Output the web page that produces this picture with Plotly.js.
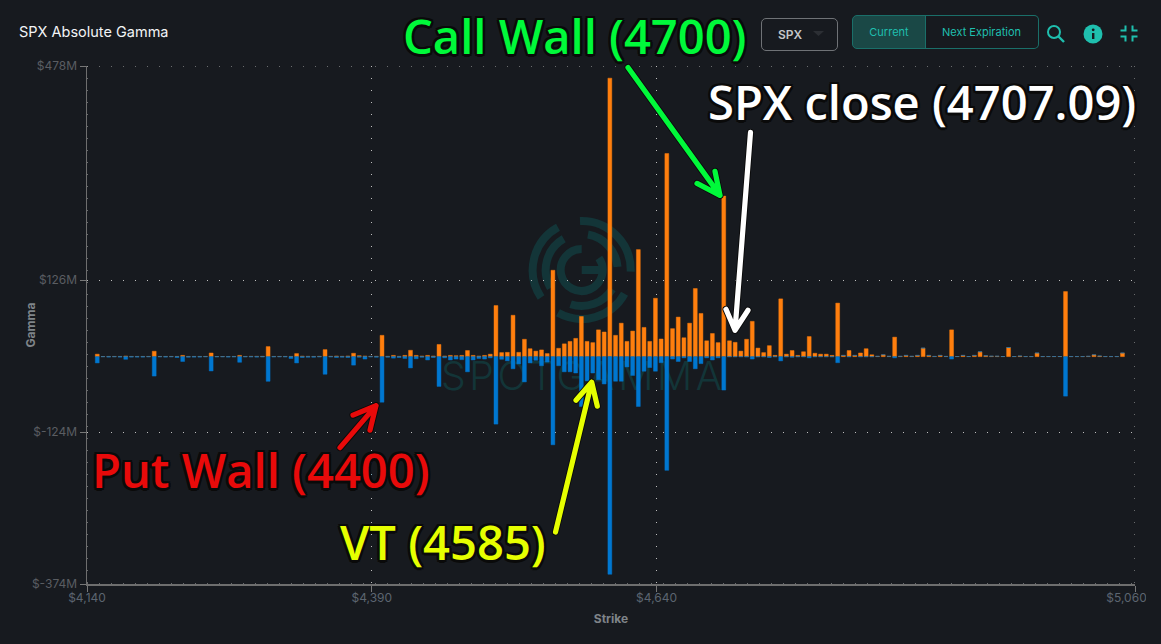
<!DOCTYPE html>
<html>
<head>
<meta charset="utf-8">
<script src="https://cdn.plot.ly/plotly-3.0.1.min.js"></script>
<style>
html,body{margin:0;padding:0;background:#171a1f;width:1161px;height:644px;overflow:hidden;font-family:Inter,sans-serif}
#wm{position:absolute;left:0;top:0}
#chart{position:absolute;left:0;top:0;width:1146px;height:644px;overflow:hidden}
.ui{position:absolute;box-sizing:border-box;display:flex;align-items:center;justify-content:center;font-size:11px;white-space:nowrap}
#icons{position:absolute;left:0;top:0}
.shapelayer path{stroke-linejoin:round}
</style>
</head>
<body>
<svg id="wm" width="1161" height="644"></svg>
<div id="chart"></div>
<div class="ui" style="left:761px;top:18px;width:77px;height:33px;border:1px solid #6f7276;border-radius:5px;color:#c4c6c9;font-weight:600;font-size:12px;padding-right:19px">SPX</div>
<div class="ui" style="left:852px;top:15px;width:74px;height:34px;border:1px solid #1a6f69;border-radius:5px 0 0 5px;background:#1a4846;color:#1fbfae">Current</div>
<div class="ui" style="left:925px;top:15px;width:114px;height:34px;border:1px solid #1a6f69;border-left:none;border-radius:0 5px 5px 0;color:#1fbfae">Next Expiration</div>
<svg id="icons" width="1161" height="70">
  <path d="M813 31 L824 31 L818.5 36 Z" fill="#2c2f34"/>
  <circle cx="1054" cy="32" r="6" fill="none" stroke="#1fbfae" stroke-width="2"/>
  <path d="M1058.5 36.5 L1064 42" stroke="#1fbfae" stroke-width="2.4" fill="none"/>
  <circle cx="1093" cy="34" r="9.5" fill="#1fbfae"/>
  <rect x="1092" y="33" width="2.4" height="6" fill="#171a1f"/><circle cx="1093.2" cy="29.8" r="1.4" fill="#171a1f"/>
  <path d="M1123 30.5 H1128 V25.5 M1135 25.5 V30.5 H1140 M1123 36.5 H1128 V41.5 M1135 41.5 V36.5 H1140" transform="translate(-2.5,0)" fill="none" stroke="#1fbfae" stroke-width="2"/>
</svg>
<script>
// Strike every 5 points from 4150 to 5050
const strikes = [
4150,4155,4160,4165,4170,4175,4180,4185,4190,4195,
4200,4205,4210,4215,4220,4225,4230,4235,4240,4245,
4250,4255,4260,4265,4270,4275,4280,4285,4290,4295,
4300,4305,4310,4315,4320,4325,4330,4335,4340,4345,
4350,4355,4360,4365,4370,4375,4380,4385,4390,4395,
4400,4405,4410,4415,4420,4425,4430,4435,4440,4445,
4450,4455,4460,4465,4470,4475,4480,4485,4490,4495,
4500,4505,4510,4515,4520,4525,4530,4535,4540,4545,
4550,4555,4560,4565,4570,4575,4580,4585,4590,4595,
4600,4605,4610,4615,4620,4625,4630,4635,4640,4645,
4650,4655,4660,4665,4670,4675,4680,4685,4690,4695,
4700,4705,4710,4715,4720,4725,4730,4735,4740,4745,
4750,4755,4760,4765,4770,4775,4780,4785,4790,4795,
4800,4805,4810,4815,4820,4825,4830,4835,4840,4845,
4850,4855,4860,4865,4870,4875,4880,4885,4890,4895,
4900,4905,4910,4915,4920,4925,4930,4935,4940,4945,
4950,4955,4960,4965,4970,4975,4980,4985,4990,4995,
5000,5005,5010,5015,5020,5025,5030,5035,5040,5045,
5050];
// Call gamma, $M
const callGamma = [
4,.2,.3,.3,.3,1,.3,.3,.3,.3,
8.8,.3,.3,.3,.3,2,.3,.3,.3,.3,
6,.2,.2,.2,.3,2,.3,.5,.5,.5,
16.5,.3,.3,.3,.3,5,.8,.5,.3,.5,
11.5,.5,1,.5,1,5.5,1.5,1,.5,.5,
35,.5,2,.5,2,10.4,2,1,2,1,
20,1,2,1.5,2,10,2,1,2,4,
84,6.6,7,68,7,28.5,13,9,11,5,
142,13.7,21,25,30,66,25,23,44,40.5,
458,35,55,25,42,176,48,25,96,29,
334,46,65,31,55,112,71,26,38,23,
264,26,23.5,9,28.5,58,14,6.6,18,2,
95,4,10,2,8,33,5.5,4,4,2,
88,2,10,2,6,13,3,.5,3,.5,
32,.5,2,.5,2,14,2,.3,2,.3,
44,.2,2,.2,2,8,1.5,.7,.7,.2,
15,.2,1,.1,.1,6,.1,.1,.2,.2,
107,.1,.1,.1,.5,3,1,.1,.1,.1,
6];
// Put gamma, $M (magnitude, drawn below zero)
const putGamma = [
10.4,.2,.8,.3,.8,4.4,.8,.8,.8,.3,
32,.3,.8,.3,1.5,8,1,.8,.8,.3,
23.6,.5,.3,.8,.5,9.3,.5,.5,.8,.5,
40.6,.5,.3,.5,3,10.4,1.5,1,1,.5,
29,.5,1.5,1,1.5,14,1,4,.5,1,
75,1,2.5,1.5,3,18.6,3.5,1,5.5,1.5,
49,2,5.5,4,5,25,5.5,3,4,2,
111,4.4,7,20,12,41.6,10.4,6,15,9,
145,15,25,25,27,82,40,27,38,45,
358,40.5,40.5,17,31,82,24,18,24,10,
187,4,8,2,8,20,11.5,2,5.5,2,
55,.2,.2,.2,.5,4,.3,.3,1.5,.2,
7,.3,1,.2,.2,2,.2,.2,.2,.3,
10,0,.2,0,.2,.2,.2,0,0,0,
2,0,0,0,0,0,0,0,0,0,
4,0,0,0,0,0,0,0,0,0,
0,0,0,0,0,0,0,0,0,0,
65,0,0,0,0,0,0,0,0,0,
0];
const xTickVals = [4140,4390,4640,5060];
const xTickText = ['$4,140','$4,390','$4,640','$5,060'];
const yTickVals = [478,126,-124,-374];
const yTickText = ['$478M','$126M','$-124M','$-374M'];

const W=1146,H=644,L=87,R=11,T=65.5,B=60;
const px=x=>(x-L)/(W-L-R), py=y=>1-(y-T)/(H-T-B);
function arrowPath(from,tip,h1,h2){
  const pt=(c,a)=>c+' '+px(a[0])+' '+py(a[1]);
  return pt('M',from)+' '+pt('L',tip)+' '+pt('M',h1)+' '+pt('L',tip)+' '+pt('L',h2);
}
const arrows=[
 {c:'#00f93a',d:[[628,67],[720,195],[715,171],[697,183]]},
 {c:'#ffffff',d:[[750.5,132],[735,330],[726,309],[748,310]]},
 {c:'#e6ff00',d:[[555.5,532],[591.7,382],[576,400],[597.3,406]]},
 {c:'#e80a0a',d:[[340,447.5],[376,405.5],[353,415],[370,430]]}
];
const gridDots={color:'#bdbdbd',width:1,dash:'1px,11px'};
const shapes=[
 {type:'line',xref:'x',yref:'y',x0:4140,x1:5060,y0:478,y1:478,line:gridDots,layer:'below'},
 {type:'line',xref:'x',yref:'y',x0:5060,x1:5060,y0:478,y1:-374,line:gridDots,layer:'below'},
 {type:'line',xref:'x',yref:'y',x0:4140,x1:5060,y0:-374,y1:-374,line:gridDots,layer:'above'},
 {type:'line',xref:'x',yref:'y',x0:4140,x1:4140,y0:478,y1:-374,line:gridDots,layer:'above'}
];
arrows.forEach(a=>{
  const path=arrowPath(...a.d);
  shapes.push({type:'path',xref:'paper',yref:'paper',path,line:{color:'#0a0a0a',width:7},layer:'above'});
  shapes.push({type:'path',xref:'paper',yref:'paper',path,line:{color:a.c,width:5.2},layer:'above'});
});
const outline=['-2px -2px 0 #0a0a0a','2px -2px 0 #0a0a0a','-2px 2px 0 #0a0a0a','2px 2px 0 #0a0a0a','0 -2.5px 0 #0a0a0a','0 2.5px 0 #0a0a0a','-2.5px 0 0 #0a0a0a','2.5px 0 0 #0a0a0a'].join(',');
function bigLabel(text,cx,cy,color){
  return {text,xref:'paper',yref:'paper',x:px(cx),y:py(cy),xanchor:'center',yanchor:'middle',showarrow:false,
    font:{family:'"Open Sans",sans-serif',size:47.1,color,weight:600,shadow:outline}};
}
const annotations=[
 bigLabel('Call Wall (4700)',574.5,35,'#00f93a'),
 bigLabel('SPX close (4707.09)',921.5,101.5,'#ffffff'),
 bigLabel('Put Wall (4400)',260.5,470,'#e80a0a'),
 bigLabel('VT (4585)',442.5,542,'#e6ff00')
];
const traces=[
 {type:'bar',name:'Call',x:strikes,y:callGamma,width:3.4,offset:-2.7,marker:{color:'#ff7f0e',line:{color:'rgba(255,127,14,0.45)',width:1}}},
 {type:'bar',name:'Put',x:strikes,y:putGamma.map(v=>-v),width:3.4,offset:-2.7,marker:{color:'#0077d0',line:{color:'rgba(0,119,208,0.45)',width:1}}}
];
const layout={
 width:W,height:H,margin:{l:L,r:R,t:T,b:B,pad:0},
 paper_bgcolor:'rgba(0,0,0,0)',plot_bgcolor:'rgba(0,0,0,0)',
 barmode:'relative',bargap:0,showlegend:false,
 title:{text:'SPX Absolute Gamma',x:19/W,xanchor:'left',y:1-32/H,yanchor:'middle',yref:'container',font:{family:'Inter,sans-serif',size:14.5,color:'#f2f4f6'}},
 font:{family:'Inter,sans-serif'},
 xaxis:{range:[4140,5060],tickmode:'array',tickvals:xTickVals,ticktext:xTickText,ticks:'outside',ticklen:6,tickcolor:'#777',tickwidth:1,
   tickfont:{size:12,color:'#5c6570'},ticklabeloverflow:'allow',ticklabelstandoff:-4,showline:true,linecolor:'#6e6e6e',linewidth:1.5,zeroline:false,
   showgrid:true,gridcolor:'#bdbdbd',griddash:'1px,11px',gridwidth:1,
   title:{text:'Strike',font:{size:12,color:'#7f8489',weight:700},standoff:10}},
 yaxis:{range:[-374,478],tickmode:'array',tickvals:yTickVals,ticktext:yTickText,ticks:'outside',ticklen:6,tickcolor:'#777',tickwidth:1,
   tickfont:{size:12,color:'#5a5d62'},showline:true,linecolor:'#6e6e6e',linewidth:1.5,zeroline:false,
   showgrid:true,gridcolor:'#bdbdbd',griddash:'1px,11px',gridwidth:1,
   title:{text:'Gamma',font:{size:12,color:'#7f8489',weight:700},standoff:0}},
 shapes,annotations
};
// Watermark behind the transparent plot
(function(){
  const cx=581.7,cy=270,ns='http://www.w3.org/2000/svg',svg=document.getElementById('wm'),col='#133538';
  const arc=(r,a0,a1,w)=>{
    const pt=a=>[cx+r*Math.cos(a*Math.PI/180),cy+r*Math.sin(a*Math.PI/180)];
    const [x0,y0]=pt(a0),[x1,y1]=pt(a1);
    const e=document.createElementNS(ns,'path');
    e.setAttribute('d',`M${x0} ${y0} A${r} ${r} 0 ${a1-a0>180?1:0} 1 ${x1} ${y1}`);
    e.setAttribute('fill','none');e.setAttribute('stroke',col);e.setAttribute('stroke-width',w);
    svg.appendChild(e);
  };
  [[49,-92,2],[49,146,241],[49,29,119],[36,-80,-5],[36,150,240],[36,32,108],[21,-35,270]].forEach(a=>arc(a[0],a[1],a[2],8));
  const bar=document.createElementNS(ns,'path');
  bar.setAttribute('d',`M${cx} ${cy} H${cx+24}`);bar.setAttribute('stroke',col);bar.setAttribute('stroke-width',8);svg.appendChild(bar);
  const t=document.createElementNS(ns,'text');
  t.textContent='SPOTGAMMA';t.setAttribute('x',441);t.setAttribute('y',390);t.setAttribute('textLength',281);
  t.setAttribute('font-family','Inter,sans-serif');t.setAttribute('font-size',39);t.setAttribute('font-weight',300);t.setAttribute('fill',col);
  svg.appendChild(t);
})();
Plotly.newPlot('chart',traces,layout,{displayModeBar:false,staticPlot:true}).then(()=>{
  document.querySelectorAll('.shapelayer path').forEach(e=>{ if(e.getAttribute('d').length>60) e.style.strokeLinecap='round'; });
  // Nudge: last x tick label sits just inside the card edge; y title sits close to the tick labels
  const xt=[...document.querySelectorAll('.xtick text')].pop();
  if(xt) xt.setAttribute('x',(+xt.getAttribute('x'))-8.5);
  const yg=document.querySelector('.g-ytitle');
  if(yg) yg.setAttribute('transform','translate(7,0)');
});
</script>
</body>
</html>
